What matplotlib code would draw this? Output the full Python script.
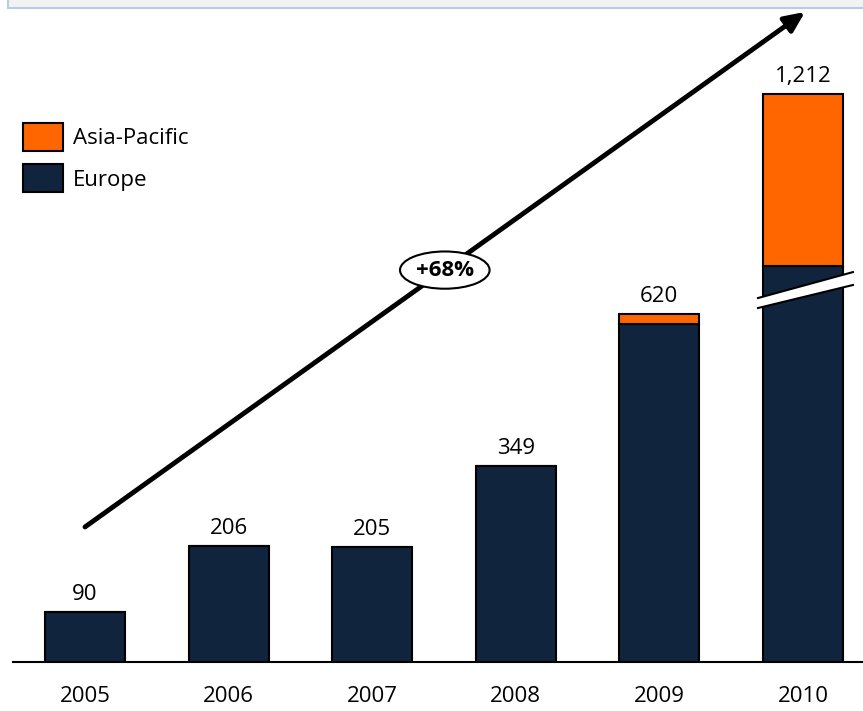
import numpy as np
import matplotlib
matplotlib.use("Agg")
import matplotlib.pyplot as plt
from matplotlib.patches import Rectangle, Polygon, Patch
from matplotlib.transforms import blended_transform_factory

## DATA
years = ["2005", "2006", "2007", "2008", "2009", "2010"]
europe = [90, 206, 205, 349, 602, 905]
asia_pacific = [0, 0, 0, 0, 18, 307]
totals = [e + a for e, a in zip(europe, asia_pacific)]
growth_label = "+68%"

## COLORS
ORANGE = "#FF6600"
NAVY = "#10243E"

plt.rcParams["font.family"] = ["Open Sans", "DejaVu Sans"]
FS = 16

# broken y axis: values between BREAK and BREAK + CUT are squeezed out
BREAK, CUT, EPS = 663.0, 201.0, 0.01


def squeeze(y):
    y = np.asarray(y, dtype=float)
    return np.where(y < BREAK, y,
                    np.where(y < BREAK + CUT, BREAK + (y - BREAK) * EPS, y - CUT * (1 - EPS)))


def unsqueeze(v):
    v = np.asarray(v, dtype=float)
    top = BREAK + CUT * EPS
    return np.where(v < BREAK, v,
                    np.where(v < top, BREAK + (v - BREAK) / EPS, v + CUT * (1 - EPS)))


fig = plt.figure(figsize=(8.63, 7.11), dpi=100)
ax = fig.add_axes([13 / 863, 49 / 711, 850 / 863, 662 / 711])

# grey header strip at the top
fig.patches.append(Rectangle((8 / 863, 703 / 711), 1.0, 0.1, transform=fig.transFigure,
                             facecolor="#F2F2F2", edgecolor="#B8CCE4", linewidth=1.5, zorder=0))

ax.set_yscale("function", functions=(squeeze, unsqueeze))
x = np.arange(len(years))
width = 0.557
ax.bar(x, europe, width, color=NAVY, edgecolor="black", linewidth=1.5, label="Europe", zorder=2)
ax.bar(x, asia_pacific, width, bottom=europe, color=ORANGE, edgecolor="black", linewidth=1.5,
       label="Asia-Pacific", zorder=2)

for xi, total in zip(x, totals):
    ax.annotate(f"{total:,}", (xi, total), xytext=(0, 5), textcoords="offset points",
                ha="center", va="bottom", fontsize=FS)

ax.set_xlim(-0.501, 5.418)
ax.set_ylim(0, unsqueeze(1180.0))
ax.set_xticks(x)
ax.set_xticklabels(years, fontsize=FS)
ax.set_yticks([])
ax.tick_params(axis="x", length=0, pad=17)
for side in ["top", "right", "left"]:
    ax.spines[side].set_visible(False)
ax.spines["bottom"].set_linewidth(1.5)

# break marks on the 2010 bar
trans = blended_transform_factory(ax.transData, ax.transAxes)
xl, xr = 5 - 0.313, 5 + 0.348
lower = [(xl, 0.5347), (xr, 0.5695)]
upper = [(xl, 0.5498), (xr, 0.589)]
ax.add_patch(Polygon(lower + upper[::-1], closed=True, transform=trans, facecolor="white",
                     edgecolor="none", zorder=3))
for line in (lower, upper):
    ax.plot([p[0] for p in line], [p[1] for p in line], transform=trans, color="black",
            linewidth=1.5, zorder=4)

# growth arrow
ax.annotate("", xy=(0.9318, 0.982), xytext=(0.0847, 0.204), xycoords="axes fraction",
            arrowprops=dict(arrowstyle="-|>,head_length=0.55,head_width=0.25", lw=3.5,
                            color="black", mutation_scale=22, shrinkA=0, shrinkB=0),
            annotation_clip=False)
ax.text(0.508, 0.592, growth_label, transform=ax.transAxes, ha="center", va="center",
        fontsize=FS, fontweight="bold", zorder=5,
        bbox=dict(boxstyle="ellipse,pad=0.12", facecolor="white", edgecolor="black", linewidth=1.5))

handles = [Patch(facecolor=ORANGE, edgecolor="black", linewidth=1.5, label="Asia-Pacific"),
           Patch(facecolor=NAVY, edgecolor="black", linewidth=1.5, label="Europe")]
ax.legend(handles=handles, loc="upper left", bbox_to_anchor=(-0.007, 0.838), frameon=False,
          fontsize=FS, handlelength=1.8, handleheight=1.55, handletextpad=0.45, labelspacing=0.62,
          borderaxespad=0.3)

fig.savefig("out.png", dpi=100)
